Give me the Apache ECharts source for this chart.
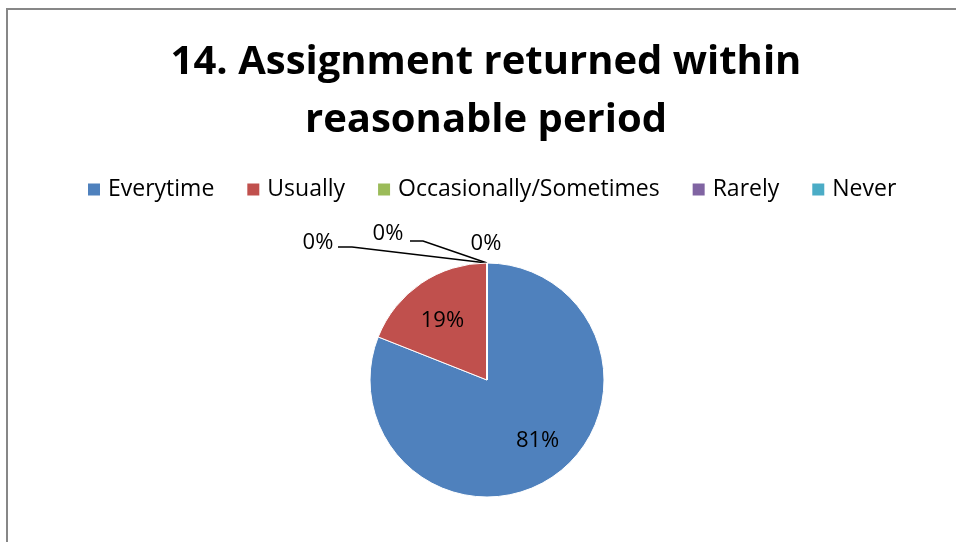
<!DOCTYPE html>
<html>
<head>
<meta charset="utf-8">
<script src="https://cdn.jsdelivr.net/npm/echarts@6/dist/echarts.min.js"></script>
<style>
  html, body { margin: 0; padding: 0; background: #fff; }
  #chart { width: 956px; height: 542px; }
</style>
</head>
<body>
<div id="chart"></div>
<script>
const titleText = '14. Assignment returned within\nreasonable period';
const categories = ['Everytime', 'Usually', 'Occasionally/Sometimes', 'Rarely', 'Never'];
const values = [81, 19, 0, 0, 0];
const colors = ['#4F81BD', '#C0504D', '#9BBB59', '#8064A2', '#4BACC6'];

const font = '"Open Sans", "Noto Sans", sans-serif';
const pieCenter = [487, 380];
const pieRadius = 117;

// nudges so the inside labels sit where excel had them
const insideNudge = { 0: [16, 10], 1: [-10, -8] };

// where excel put the labels of the empty slices (offset from pie centre)
const zeroLabelSpots = {
  2: { dx: -169, dy: -137, line: [[-135, -133], [-149, -133]] },
  3: { dx: -99, dy: -146, line: [[-64, -139], [-77, -139]] },
  4: { dx: -1, dy: -136, line: null }
};

const chart = echarts.init(document.getElementById('chart'));

const pieData = categories.map((name, i) => {
  const zero = values[i] === 0;
  return {
    name,
    value: values[i],
    itemStyle: { color: colors[i] },
    label: { position: zero ? 'outside' : 'inside' },
    labelLine: { show: zero && zeroLabelSpots[i].line !== null }
  };
});

chart.setOption({
  animation: false,
  backgroundColor: '#fff',
  graphic: [{
    type: 'rect',
    shape: { x: 7, y: 9, width: 1000, height: 600 },
    style: { fill: 'none', stroke: '#878787', lineWidth: 2 },
    silent: true
  }],
  title: {
    text: titleText,
    left: 486,
    top: 34,
    padding: 0,
    textAlign: 'center',
    textStyle: { fontFamily: font, fontSize: 40, fontWeight: 'bold', color: '#000', lineHeight: 58 }
  },
  legend: {
    data: categories,
    left: 86,
    top: 178,
    padding: 0,
    orient: 'horizontal',
    itemWidth: 14,
    itemHeight: 14,
    itemGap: 31,
    icon: 'rect',
    textStyle: { fontFamily: font, fontSize: 23, color: '#000', padding: [0, 0, 0, 2] }
  },
  series: [{
    type: 'pie',
    center: pieCenter,
    radius: pieRadius,
    startAngle: 90,
    clockwise: true,
    avoidLabelOverlap: false,
    percentPrecision: 0,
    itemStyle: { borderColor: '#fff', borderWidth: 1 },
    label: {
      show: true,
      formatter: '{d}%',
      fontFamily: font,
      fontSize: 22,
      color: '#000'
    },
    labelLine: { show: true, lineStyle: { color: '#000', width: 1.5 } },
    labelLayout: params => {
      const nudge = insideNudge[params.dataIndex];
      if (nudge) return { dx: nudge[0], dy: nudge[1] };
      const spot = zeroLabelSpots[params.dataIndex];
      if (!spot) return {};
      const [cx, cy] = pieCenter;
      const out = {
        x: cx + spot.dx,
        y: cy + spot.dy,
        align: 'center',
        verticalAlign: 'middle'
      };
      if (spot.line) {
        out.labelLinePoints = [[cx, cy - pieRadius]].concat(spot.line.map(p => [cx + p[0], cy + p[1]]));
      }
      return out;
    },
    emphasis: { disabled: true },
    data: pieData
  }]
});
</script>
</body>
</html>
